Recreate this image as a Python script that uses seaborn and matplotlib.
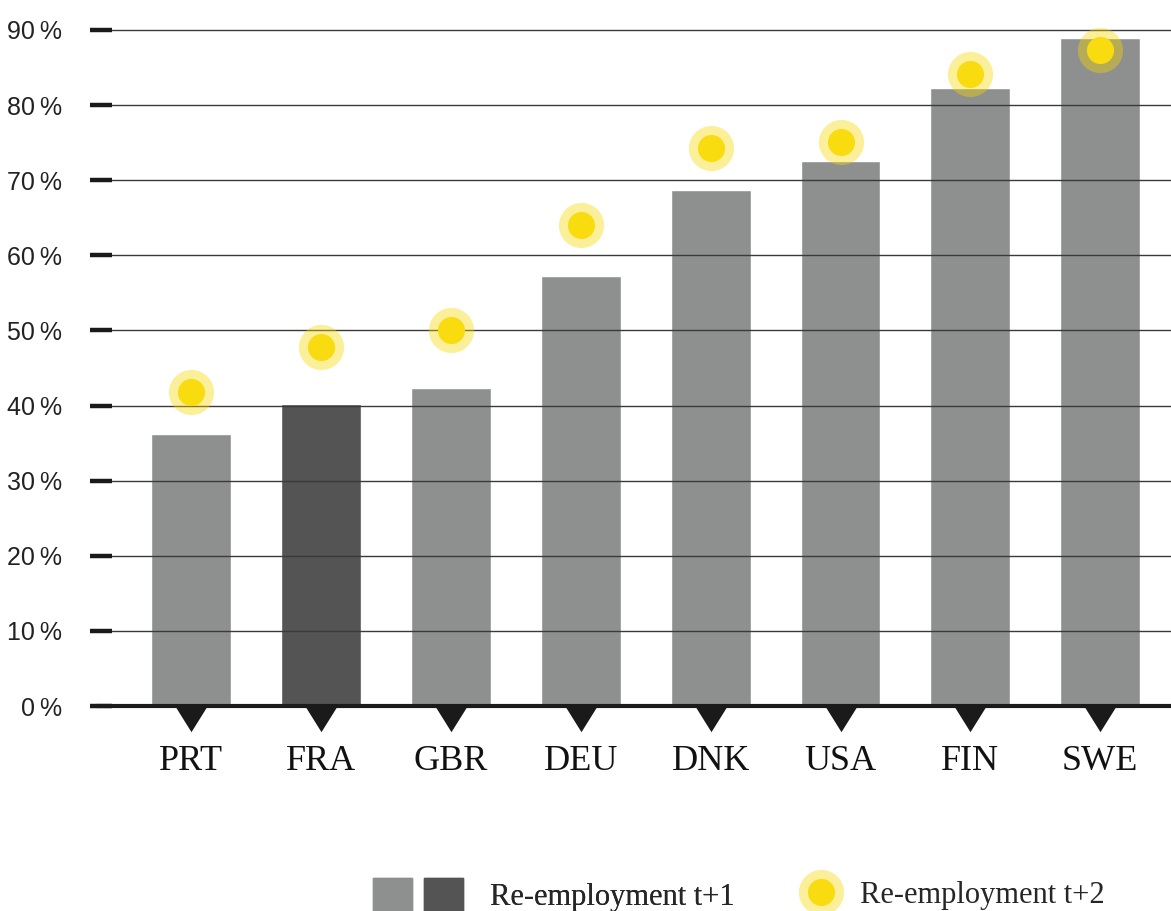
import numpy as np
import matplotlib.pyplot as plt
import seaborn as sns
from matplotlib.patches import Patch
from matplotlib.lines import Line2D
from matplotlib.legend_handler import HandlerTuple

sns.set_style('white')

# data
countries = ['PRT', 'FRA', 'GBR', 'DEU', 'DNK', 'USA', 'FIN', 'SWE']
reemp_t1 = [36.2, 40.2, 42.3, 57.2, 68.7, 72.6, 82.3, 88.9]
reemp_t2 = [41.8, 47.8, 50.1, 64.0, 74.3, 75.1, 84.1, 87.3]
bar_colors = ['#8e908f', '#545454', '#8e908f', '#8e908f', '#8e908f', '#8e908f', '#8e908f', '#8e908f']
yticks = [0, 10, 20, 30, 40, 50, 60, 70, 80, 90]
ytick_labels = ['0\u2009%', '10\u2009%', '20\u2009%', '30\u2009%', '40\u2009%',
                '50\u2009%', '60\u2009%', '70\u2009%', '80\u2009%', '90\u2009%']
legend_labels = ['Re-employment t+1', 'Re-employment t+2']

sans = ['Liberation Sans', 'DejaVu Sans']
serif = ['Liberation Serif', 'DejaVu Serif']

halo_col, halo_alpha = '#f5d800', 0.4
core_col = '#f9dc10'

fig = plt.figure(figsize=(11.71, 9.11), dpi=100)
ax = fig.add_axes([90 / 1171, 205 / 911, 1 - 90 / 1171, 686 / 911])

x = np.arange(len(countries))
sns.barplot(x=x, y=reemp_t1, hue=x, palette=bar_colors, legend=False,
            width=0.615, saturation=1, ax=ax, zorder=1)

# grid lines drawn over the bars
ax.set_axisbelow(False)
ax.yaxis.grid(True, color='#3a3a3a', linewidth=1.0)
ax.xaxis.grid(False)

# yellow dots with pale halo
ax.scatter(x, reemp_t2, s=32.5 ** 2, color=halo_col, alpha=halo_alpha, linewidths=0, zorder=3)
ax.scatter(x, reemp_t2, s=19.5 ** 2, color=core_col, linewidths=0, zorder=4)

# thick baseline and the little triangles under each bar
ax.axhline(0, xmin=7 / 1081, xmax=1, color='#1a1a1a', linewidth=3, zorder=5, clip_on=False)
tri = [(-1, 0), (1, 0), (0, -1.6)]
ax.plot(x, [0] * len(x), linestyle='none', marker=tri, markersize=37,
        color='#1a1a1a', markeredgewidth=0, zorder=6, clip_on=False)

ax.set_xlim(-0.78, 7.545)
ax.set_ylim(0, 91.33)
ax.set_yticks(yticks)
ax.set_yticklabels(ytick_labels, family=sans, fontsize=18, color='#222222')
ax.set_xticks(x)
ax.set_xticklabels(countries, family=serif, fontsize=26, color='#111111')
ax.tick_params(axis='y', left=True, direction='in', length=16, width=3.2, color='#1a1a1a', pad=20)
ax.tick_params(axis='x', bottom=False, length=0, pad=28)
ax.set_xlabel('')
ax.set_ylabel('')
for s in ax.spines.values():
    s.set_visible(False)

# legend
h1 = (Patch(color='#8e908f'), Patch(color='#545454'))
leg1 = fig.legend([h1], [legend_labels[0]], handler_map={tuple: HandlerTuple(ndivide=None, pad=0.42)},
                  loc='center left', bbox_to_anchor=(373 / 1171, 16 / 911), frameon=False,
                  prop={'family': serif, 'size': 22}, handlelength=2.95, handleheight=1.28,
                  handletextpad=0.88, borderpad=0, borderaxespad=0)
h2 = (Line2D([], [], linestyle='none', marker='o', markersize=32.5, color=halo_col, alpha=halo_alpha, markeredgewidth=0),
      Line2D([], [], linestyle='none', marker='o', markersize=19.5, color=core_col, markeredgewidth=0))
leg2 = fig.legend([h2], [legend_labels[1]], handler_map={tuple: HandlerTuple(ndivide=1)},
                  loc='center left', bbox_to_anchor=(800 / 1171, 16 / 911), frameon=False,
                  prop={'family': serif, 'size': 22}, handlelength=1.4,
                  handletextpad=0.55, borderpad=0, borderaxespad=0)
fig.add_artist(leg1)

fig.savefig('out.png', dpi=100)
